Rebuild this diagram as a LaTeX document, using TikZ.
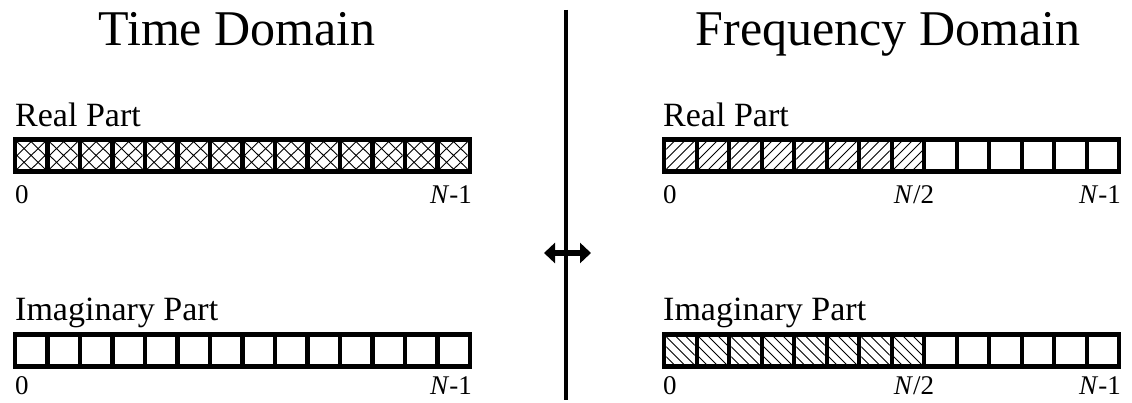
\documentclass[tikz,border=0pt]{standalone}
\usepackage{fontspec}
\setmainfont{Liberation Serif}
\usetikzlibrary{arrows.meta}

\begin{document}
\begin{tikzpicture}[
  x=1pt,
  y=-1pt,
  every node/.style={inner sep=0pt, text=black},
  title/.style={font=\fontsize{50}{50}\selectfont, anchor=base},
  part/.style={font=\fontsize{34}{34}\selectfont, anchor=base west},
  index/.style={font=\fontsize{27}{27}\selectfont},
  frame/.style={fill=black},
  cellbox/.style={fill=white},
  hatch/.style={black, line width=0.9pt},
  divider/.style={black, line width=4pt},
  transform/.style={black, line width=6pt,
                    {Triangle[length=11pt,width=20pt]}-{Triangle[length=11pt,width=20pt]}}
]
  % ---- page box ----
  \useasboundingbox (0,0) rectangle (1132,403);

  % ---- headings ----
  \node[title] (tdom) at (237,46) {Time Domain};
  \node[title] (fdom) at (888,46) {Frequency Domain};

  % ---- divider and the double arrow ----
  \coordinate (divtop) at (566,10);
  \coordinate (divbot) at (566,400);
  \draw[divider] (divtop) -- (divbot);
  \coordinate (arrl) at (544,253);
  \coordinate (arrr) at (591,253);
  \draw[transform] (arrl) -- (arrr);

  % ---- the four arrays: black frame, 14 white cells each ----
  \foreach \bx/\by in {12.7/136.7, 662/136.7, 12.7/331.7, 662/331.7} {
    \fill[frame] (\bx,\by) rectangle ++(459.3,37);
    \foreach \i in {0,...,13}
      \fill[cellbox] ({\bx+4.3+\i*32.5},{\by+5}) rectangle ++(28.2,27.5);
  }

  % ---- time domain, real part: cross hatch in every cell ----
  \foreach \i in {0,...,13} {
    \pgfmathsetmacro{\cx}{12.7+4.3+\i*32.5}
    \begin{scope}
      \clip (\cx,141.7) rectangle ++(28.2,27.5);
      \draw[hatch] (\cx,141.7) -- ++(28.2,27.5)
                   (\cx+28.2,141.7) -- ++(-28.2,27.5);
      \draw[hatch] (\cx+14.1,141.7) -- (\cx+28.2,155.45)
                   -- (\cx+14.1,169.2) -- (\cx,155.45) -- cycle;
    \end{scope}
  }

  % ---- frequency domain, real part: "/" hatch in cells 0..N/2 ----
  \foreach \i in {0,...,7} {
    \pgfmathsetmacro{\cx}{662+4.3+\i*32.5}
    \begin{scope}
      \clip (\cx,141.7) rectangle ++(28.2,27.5);
      \foreach \t in {-20,-10,0,10,20}
        \draw[hatch] (\cx+\t,169.2) -- ++(27.5,-27.5);
    \end{scope}
  }

  % ---- frequency domain, imaginary part: "\" hatch in cells 0..N/2 ----
  \foreach \i in {0,...,7} {
    \pgfmathsetmacro{\cx}{662+4.3+\i*32.5}
    \begin{scope}
      \clip (\cx,336.7) rectangle ++(28.2,27.5);
      \foreach \t in {-20,-10,0,10,20}
        \draw[hatch] (\cx+\t,336.7) -- ++(27.5,27.5);
    \end{scope}
  }

  % ---- part labels ----
  \node[part] (treal) at (15,127) {Real Part};
  \node[part] (timag) at (15,320) {Imaginary Part};
  \node[part] (freal) at (663,127) {Real Part};
  \node[part] (fimag) at (663,320) {Imaginary Part};

  % ---- index labels ----
  \node[index, anchor=base west] (treal0) at (15,204) {0};
  \node[index, anchor=base east] (trealn) at (472,204) {\textit{N}-1};
  \node[index, anchor=base west] (timag0) at (15,394) {0};
  \node[index, anchor=base east] (timagn) at (472,394) {\textit{N}-1};
  \node[index, anchor=base west] (freal0) at (663,204) {0};
  \node[index, anchor=base] (frealh) at (914,204) {\textit{N}/2};
  \node[index, anchor=base east] (frealn) at (1121,204) {\textit{N}-1};
  \node[index, anchor=base west] (fimag0) at (663,394) {0};
  \node[index, anchor=base] (fimagh) at (914,394) {\textit{N}/2};
  \node[index, anchor=base east] (fimagn) at (1121,394) {\textit{N}-1};
\end{tikzpicture}
\end{document}
